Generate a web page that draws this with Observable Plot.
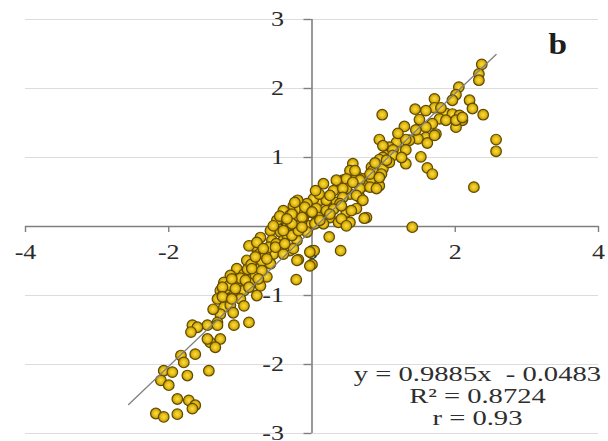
<!DOCTYPE html>
<html>
<head>
<meta charset="utf-8">
<script src="https://cdn.jsdelivr.net/npm/d3@7"></script>
<script src="https://cdn.jsdelivr.net/npm/@observablehq/plot@0.6"></script>
<style>
  html, body { margin: 0; padding: 0; background: #fff; overflow: hidden; }
  #chart svg { display: block; }
</style>
</head>
<body>
<div id="chart"></div>
<script>
// Observed (x) vs. estimated (y) standardized values
const xValues = [
  2.37, 2.33, 2.33, 2.05, 2.01, 1.96, 2.20, 2.24, 2.39, 1.71,
  1.71, 1.44, 0.98, 1.59, 1.87, 1.96, 2.06, 2.10, 2.01, 1.78,
  1.87, 1.68, 1.59, 1.29, 2.01, 2.10, 1.73, 1.59, 1.48, 1.36,
  0.94, 1.18, 1.08, 1.61, 2.57, 2.57, 1.22, 1.04, 1.52, 1.31,
  1.71, 1.13, 1.31, 0.99, 1.13, 1.31, 1.61, 1.68, 0.94, 0.83,
  0.57, 0.53, 0.62, 0.71, 0.90, 0.99, 0.43, 0.39, 0.76, 0.16,
  0.30, 0.53, 0.67, 2.26, 0.60, 0.85, 1.08, 0.48, 0.67, 0.83,
  0.97, 0.48, 0.67, 0.81, 0.94, 1.04, 0.81, 0.94, 0.34, 0.57,
  0.43, 0.62, 0.71, 0.11, -0.03, 0.34, 0.76, 0.43, 0.20, 0.02,
  -0.07, -0.26, -0.17, 0.06, 0.20, 0.39, 0.48, 0.62, -0.40, -0.31,
  -0.12, 0.09, 0.25, 0.37, 0.53, -0.49, -0.35, -0.21, -0.03, 0.16,
  0.73, 1.40, 0.24, 0.40, 0.03, -0.19, -0.58, -0.44, -0.26, -0.07,
  -0.72, -0.56, -0.40, -0.21, -0.77, -0.63, -0.47, -0.31, -0.54, -0.82,
  -0.44, -0.26, -0.54, -0.72, -0.91, -0.40, -0.21, -0.03, 0.00, -0.22,
  -0.03, -0.58, -0.77, -1.05, -1.14, -0.95, -0.79, -0.63, -1.23, -1.05,
  -0.86, -0.72, -1.28, -1.09, -0.95, -0.77, -1.32, -1.18, -1.00, -1.23,
  -1.14, -1.28, -1.67, -1.46, -1.32, -1.09, -0.88, -1.60, -1.69, -1.32,
  -1.42, -1.28, -1.35, -1.83, -1.63, -1.79, -2.07, -1.95, -1.74, -1.44,
  -2.11, -2.00, -1.88, -1.72, -1.63, -1.67, -2.18, -2.07, -1.88, -1.46,
  -1.25, -1.20, -1.15, -1.00, -0.90, -0.85, -0.70, -0.65, -0.60, -0.50,
  -0.35, -0.30, -0.15, -0.10, 0.00, 0.10, 0.25, -0.45, -0.20, 0.05,
  -1.38, -1.10, -0.95, 1.20, 1.45, 1.80, 1.50, 0.88, 1.25, 0.30,
  -0.88, -0.77, -0.68, -0.51, -0.38, -0.28, -0.19, -0.79, -0.63, -0.84,
  -0.70, -1.12, -0.93, -0.75, -1.25, -1.07, -0.88, -1.25, -1.12, -0.24,
  -0.10, -0.28, -0.14, 0.00, 0.04, -0.28, -0.40, 0.55, 0.41, 0.25,
  0.41, -0.35, 0.11, 0.48, -0.14, 0.90, 0.99
];
const yValues = [
  2.35, 2.21, 2.12, 2.02, 1.91, 1.83, 1.83, 1.71, 1.62, 1.85,
  1.72, 1.70, 1.62, 1.68, 1.64, 1.63, 1.61, 1.54, 1.44, 1.56,
  1.54, 1.49, 1.44, 1.45, 1.54, 1.58, 1.34, 1.29, 1.27, 1.25,
  1.26, 1.22, 1.15, 1.21, 1.26, 1.09, 1.08, 1.03, 1.01, 1.26,
  1.32, 1.11, 1.11, 1.00, 1.03, 0.91, 0.85, 0.76, 0.97, 0.86,
  0.91, 0.81, 0.74, 0.69, 0.76, 0.84, 0.67, 0.59, 0.59, 0.62,
  0.52, 0.47, 0.42, 0.57, 0.81, 0.81, 0.93, 0.69, 0.67, 0.69,
  0.76, 0.55, 0.55, 0.57, 0.59, 0.96, 0.76, 0.71, 0.67, 0.64,
  0.55, 0.45, 0.38, 0.38, 0.30, 0.35, 0.13, 0.42, 0.38, 0.40,
  0.33, 0.30, 0.26, 0.26, 0.23, 0.33, 0.21, 0.26, 0.23, 0.16,
  0.13, 0.13, 0.13, 0.06, 0.06, 0.09, -0.01, 0.01, 0.01, 0.04,
  0.12, -0.01, -0.15, -0.35, -0.35, -0.48, -0.06, -0.08, -0.11, -0.08,
  -0.16, -0.20, -0.20, -0.20, -0.32, -0.35, -0.35, -0.35, 0.01, -0.28,
  -0.28, -0.32, -0.40, -0.44, -0.49, -0.40, -0.49, -0.37, -0.55, -0.77,
  -0.57, -0.54, -0.59, -0.61, -0.71, -0.69, -0.71, -0.73, -0.81, -0.81,
  -0.83, -0.86, -0.93, -0.93, -0.93, -1.00, -1.05, -1.05, -1.05, -1.17,
  -1.14, -1.27, -1.43, -1.43, -1.39, -1.43, -1.39, -1.46, -1.53, -1.43,
  -1.68, -1.63, -1.75, -1.87, -1.85, -1.97, -2.09, -2.11, -2.16, -2.09,
  -2.23, -2.30, -2.50, -2.52, -2.59, -2.64, -2.71, -2.76, -2.72, -1.63,
  -1.00, -0.90, -0.85, -0.75, -0.62, -0.55, -0.50, -0.42, -0.30, -0.25,
  -0.12, 0.05, 0.05, 0.20, 0.20, 0.47, 0.45, 0.15, 0.38, 0.52,
  -1.20, -1.25, -1.15, 1.35, 1.40, 1.72, 1.55, 0.92, 1.00, 0.25,
  -0.28, -0.23, -0.32, -0.30, -0.25, -0.13, -0.06, -0.44, -0.47, -0.61,
  -0.64, -0.76, -0.78, -0.76, -0.88, -0.90, -0.88, -1.02, -1.05, 0.35,
  0.28, 0.18, 0.13, 0.21, 0.04, 0.04, -0.06, 0.23, 0.30, 0.18,
  0.11, 0.11, 0.09, 0.01, -0.01, 0.55, 1.17
];

// Axis ticks and labels
const xTicks = [-4, -2, 0, 2, 4];
const xTickLabels = ["-4", "-2", "0", "2", "4"];
const yTicks = [-3, -2, -1, 0, 1, 2, 3];
const yTickLabels = ["-3", "-2", "-1", "0", "1", "2", "3"];

// Linear fit and its statistics
const slope = 0.9885;
const intercept = -0.0483;
const rSquared = 0.8724;
const rValue = 0.93;
const trendX = [-2.56, 2.57];
const statLines = [
  `y = ${slope}x  - ${Math.abs(intercept)}`,
  `R² = ${rSquared}`,
  `r = ${rValue}`
];
const statY = [-2.13, -2.46, -2.78];
const panelLabel = "b";

const W = 608, H = 441;
const margin = {top: 19, right: 10, bottom: 8, left: 25};
const xDomain = [-4, 4];
const yDomain = [-3, 3];
const pxPerX = (W - margin.left - margin.right) / (xDomain[1] - xDomain[0]);
const pxPerY = (H - margin.top - margin.bottom) / (yDomain[1] - yDomain[0]);

const points = xValues.map((x, i) => ({x, y: yValues[i]}));
const trend = trendX.map(x => ({x, y: slope * x + intercept}));
const stats = statLines.map((t, i) => ({t, y: statY[i]}));

const serif = "'Liberation Serif', 'Times New Roman', serif";
const axisColor = "#7f7f7f";

const svg = Plot.plot({
  width: W,
  height: H,
  marginTop: margin.top,
  marginRight: margin.right,
  marginBottom: margin.bottom,
  marginLeft: margin.left,
  style: {fontFamily: serif, background: "#fff", overflow: "visible"},
  x: {domain: xDomain, axis: null},
  y: {domain: yDomain, axis: null},
  marks: [
    // horizontal gridlines
    Plot.ruleY(yTicks.filter(d => d !== 0), {stroke: "#dcdcdc", strokeWidth: 1.2}),
    // axes crossing at the origin
    Plot.ruleY([0], {stroke: axisColor, strokeWidth: 1.6}),
    Plot.ruleX([0], {stroke: axisColor, strokeWidth: 1.6}),
    Plot.ruleX(xTicks.filter(d => d !== 0), {x: d => d, y1: 0, y2: -6 / pxPerY, stroke: axisColor, strokeWidth: 1.4}),
    Plot.ruleY(yTicks, {y: d => d, x1: -8 / pxPerX, x2: 0, stroke: axisColor, strokeWidth: 1.4}),
    // tick labels
    Plot.text(xTicks, {x: d => d, y: 0, dy: 26, text: (d, i) => xTickLabels[i],
      fontSize: 20, fontFamily: serif, fill: "#2a2a2a", textAnchor: "middle", lineAnchor: "middle"}),
    Plot.text(yTicks, {x: 0, y: d => d, dx: -28, text: (d, i) => yTickLabels[i],
      fontSize: 20, fontFamily: serif, fill: "#2a2a2a", textAnchor: "end", lineAnchor: "middle"}),
    // observations
    Plot.dot(points, {x: "x", y: "y", r: 5.3, fill: "url(#dotfill)", stroke: "#5f4b00", strokeWidth: 1.2}),
    // fitted line
    Plot.line(trend, {x: "x", y: "y", stroke: "#808080", strokeWidth: 1.3}),
    // fit statistics
    Plot.text(stats, {x: 2.31, y: "y", text: "t", fontSize: 22, fontFamily: serif,
      fill: "#2e2e2e", textAnchor: "middle", lineAnchor: "middle"}),
    // panel label
    Plot.text([panelLabel], {x: 3.43, y: 2.64, text: d => d, fontSize: 29, fontWeight: "bold",
      fontFamily: serif, fill: "#1e1e1e", textAnchor: "middle", lineAnchor: "middle"})
  ]
});

// shaded fill for the dots
const ns = "http://www.w3.org/2000/svg";
const defs = document.createElementNS(ns, "defs");
const grad = document.createElementNS(ns, "radialGradient");
grad.setAttribute("id", "dotfill");
[["0%", "#f7df45"], ["55%", "#e6bd14"], ["100%", "#b98f02"]].forEach(([o, c]) => {
  const s = document.createElementNS(ns, "stop");
  s.setAttribute("offset", o);
  s.setAttribute("stop-color", c);
  grad.appendChild(s);
});
defs.appendChild(grad);
svg.insertBefore(defs, svg.firstChild);

// widen the glyphs horizontally around each label's anchor
svg.querySelectorAll("text").forEach(t => {
  const sx = t.textContent === panelLabel ? 1.15 : 1.3;
  const tr = t.getAttribute("transform") || "";
  t.setAttribute("transform", `${tr} scale(${sx},1)`.trim());
});

document.getElementById("chart").appendChild(svg);
</script>
</body>
</html>
